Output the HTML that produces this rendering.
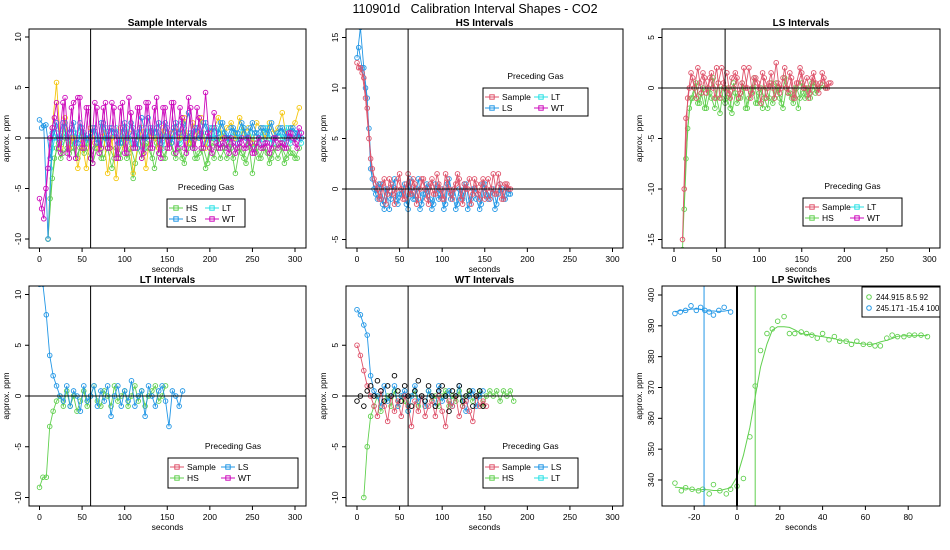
<!DOCTYPE html>
<html><head><meta charset="utf-8">
<style>
body{margin:0;background:#fff;}
svg{display:block;font-family:"Liberation Sans",Arial,sans-serif;}
text{fill:#000;white-space:pre;}
</style></head>
<body>
<svg id="c" width="950" height="550" viewBox="0 0 950 550" xmlns="http://www.w3.org/2000/svg">
<text x="475" y="13" font-size="12.5" text-anchor="middle" xml:space="preserve">110901d   Calibration Interval Shapes - CO2</text>
</svg>
<script>
// ---------- data ----------
const sampleHS = [-10,-4,-1,-2,0,-1.5,-1,-2,0.5,-1,-2,-1,-0.5,-2,-1,-3,-1,-2,0,-1.5,-4,-1,-2,-0.5,-1,-3,-1,-2,-1,-0.5,-2,-1,-2.5,-1,-0.5,-2,-1,-3,-1,-2,0,-1,-2,-1,-3.5,-1,-2,0,-3.5,-1,-2,-1,-2.5,-1,-2,-1,-2,-1.5,-2,-1];
const sampleHS2 = [-6,-2,-0.5,-1.5,-1,0,-2,-1,-1.5,0,-2.5,-1,-2,0,-1,-2,-1.5,-0.5,-2,-1,-2.5,0,-1.5,-1,-2,-0.5,-1,-2,0,-1.5,-1,-2,-1,0,-2,-1.5,-1,-2.5,-0.5,-1,-2,-1,-0.5,-2,-1,-1.5,-2.5,-1,-0.5,-2,-1,-1.5,-2,-1,-0.5,-2.5,-1,-1.5,-2];
const sampleLS = [1.8,1.2,-10,0.5,1.5,0,1.5,0.5,1.5,-0.5,1,0,0.5,1,-0.5,1.5,0,1,0.5,-0.5,1.5,0,1,-1,2,0,1,0.5,1.5,0,1,-0.5,1.5,0.5,1,2.5,0,1,0.5,1.5,0,1,0.5,1.5,0,1,0.5,-0.5,1,0,1.5,0.5,1,-0.5,1,0,0.5,1,0,1,0.5,0];
const sampleLS2 = [1,1.3,-2,1,0,1.5,0,1,-0.5,1.5,0.5,0,1,-0.5,1.5,0,1,0.5,-0.5,1,0,1.5,-0.5,1,0,2,0.5,1,-0.5,1.5,0,1,0.5,1.5,0,0.5,1,0,1.5,0.5,1,0,1.5,0.5,0,1,0.5,1.5,0,1,0.5,0,1,0.5,1.5,0,1,0.5,0,1,0.5,0];
const sampleLT = [-10,-1,0.5,-0.5,1,-0.5,0.5,0,1,-0.5,0,1,-0.5,0.5,-1,0,1,-0.5,0.5,0,-1,0.5,0,1,-0.5,0,0.5,-1,0.5,0,1,-0.5,0,0.5,-1,0,0.5,-0.5,1,0,-0.5,0.5,0,-1,0.5,0,1,-0.5,0,0.5,-0.5,1,0,-0.5,0.5,0,1,-0.5,0,0.5];
const sampleLT2 = [-3,0,-0.5,0.5,0,-1,0.5,1,0,-0.5,0.5,0,-1,1,0,0.5,-0.5,0,1,-0.5,0.5,0,-1,0.5,1,0,-0.5,0.5,0,1,-1,0.5,0,-0.5,1,0,0.5,-0.5,0,1,0.5,-1,0,0.5,-0.5,1,0,0.5,-1,0,0.5,1,-0.5,0,0.5,-0.5,1,0,0.5,-0.5];
const sampleWT = [-6,-8,-3,1,3.5,-1.5,4,-2,3.5,4,-1,3,-2,3.5,-1.5,3,-1,3.5,-2,3,-1.5,4,-1,3,-2,3.5,-1,3,-1.5,3,-1,3.5,-1.5,3,-1,4,-1,3,-1,4.5,-1,2.5,-1,-0.5,-1,0,-1.5,-0.5,-1,0,-1.5,-0.5,-1,-0.5,-1.5,0,-1,-0.5,-1,0.5,-0.5,1];
const sampleWT2 = [-7,-5,0,2,-1,3.5,-1.5,3,-2,4,-1,3,-2.5,3,-1,3.5,-1,3,-2,3.5,-1.5,2.5,-1,3,-1.5,3.5,-1,4,-2,3,-1,3.5,-1,2,-1.5,3,-1,2,-1,0.5,-1.5,-0.5,-1,0,-1.5,-0.5,-1,0,-1,-0.5,-1.5,0,-1,-0.5,-1,0,-0.5,-1,0.5,0,-1,0.5];
const sampleOther = [-10,1,5.5,-1,2,-1,0,-3,-0.5,-3,1,-0.5,-1,0.5,-3.5,0,-4,1,-1,0.5,-3.5,-1,1,-3,0.5,0,-1,1,-1,0.5,1,0,2,-0.5,1.5,0,2,-1,0.5,1,2,0,1,1.5,0,2,0.5,1,-0.5,1.5,1,0,1.5,0.5,1,2.5,0,1,1.5,3];
const hsSample = [12.5,12,11,8,3,1,0,-1,1,-0.5,0.5,-1.5,1,0,-1,1.5,-0.5,0.5,-1,1,0,-1.5,1,-0.5,0.5,-1,1.5,0,-1,0.5,1,-1.5,0,1,-0.5,0.5,-1,1,0,-1,1.5,-0.5,0.5,-1,0.5,0];
const hsSample2 = [12,11.5,9,5,2,0.5,-1,0.5,-1.5,1,-0.5,0,1.5,-1,0.5,-0.5,1,-1.5,0,1,-1,0.5,-0.5,1.5,0,-1,1,-0.5,0,1.5,-1,0.5,0,-1.5,1,-0.5,0.5,-1,1,0,-0.5,1.5,-1,0.5,0];
const hsLS = [13,16,12,9,2,0,-1,0.5,-2,0,-1,1,-1.5,-0.5,0.5,-2,0,-1,1,-1.5,-0.5,0,-2,0.5,-1,0,-1.5,1,-0.5,-2,0,-1,0.5,-1.5,0,-1,-2,0.5,-0.5,-1,0,-1.5,0.5,-1,0,-0.5];
const hsLS2 = [14,12,10,6,1,-0.5,0.5,-1.5,0,-2,0.5,-1,-0.5,0,-1.5,1,-1,0,-2,-0.5,0.5,-1,-1.5,0,-0.5,-2,0.5,-1,0,-1.5,-0.5,0.5,-2,-1,0,-0.5,-1.5,0.5,-1,0,-2,-0.5,0,-1,-0.5];
const lsSample = [-15,-3,0,1,-1,0.5,1.5,-0.5,1,0,2,-1,0.5,1.5,-1,0,1,-0.5,2,0,-1,1,0.5,-1.5,1,0,1.5,-1,0.5,0,2,-0.5,1,-1,0.5,1.5,0,-1,1,0.5,-0.5,1.5,0,0.5];
const lsSample2 = [-10,-1,1.5,0,2,-0.5,1,0,1.5,-1,0.5,2,0,-0.5,1,1.5,-1,0.5,0,2,-0.5,1,0,1.5,-1,0.5,0,2.5,-0.5,1,0,1.5,-1,0.5,2,0,1,-0.5,1.5,0,0.5,1,0,0.5];
const lsHS = [-16,-7,-2,-1,0.5,-1.5,0,-2,-0.5,1,-1,-2.5,0,-1,-2,0.5,-1.5,-1,0,-2,-0.5,1,-1.5,0,-1,-2,0.5,-1,0,-1.5,1,-0.5,-1,0,-2,0.5,-1,0,0.5,-0.5,0,0.3,0];
const lsHS2 = [-12,-4,-1,0,-1.5,-0.5,-2,0,-1,-2,0.5,-1,-1.5,0,-2.5,-0.5,-1,0.5,-2,-1,0,-1.5,-0.5,-2,0,-1,-1.5,0.5,-1,-2,0,-0.5,-1.5,0,-1,-0.5,0,-1,0.5,0];
const ltLS = [11,11,8,4,2,1,0,-0.5,1,-1,0.5,0,-1.5,1,-0.5,0,1,-1,0.5,-0.5,1,-2,0,1,-1,0.5,-0.5,1.5,-1,0,0.5,-2,1,0,-1,0.5,1,-0.5,-3,0.5,0,-1,0.5];
const ltHS = [-9,-8,-8,-3,-1.5,-0.5,0,-1,0.5,-1,0,-1.5,-0.5,0.5,-1,0,1,-0.5,-1,0.5,0,-1,1,-0.5,0,0.5,-1,0,1,-0.5,0.5,-1,0,0.5,1,-0.5,0,1];
const wtSample = [5,4,2.5,1,0,-1,-2,0.5,-1,-2.5,0,-1.5,-0.5,-2,0,-1,-3,-0.5,-1.5,0,-2,-1,-0.5,-2,0,-1.5,-3,-0.5,-1,0,-2,-1,-0.5,-1.5,-2.5,0,-1,-0.5,-1];
const wtLS = [8.5,8,7,6,2,0.5,0,-1,1,-0.5,0,1,-1,0,0.5,-1.5,0,1,-0.5,0,-1,0.5,0,-1,1,-0.5,0,0.5,-1,0,1,-0.5,-1.5,0,0.5,-1,0,0.5];
const wtHS = [-10,-5,-2,-1,0,-1.5,-0.5,0,-1,0.5,-1,0,-0.5,-1.5,0,0.5,-1,0,-1,0.5,-0.5,0,-1,0,0.5,-1,0,-0.5,0.5,-1,0,0.5,-0.5,0,0.5,-1,0,0.5,0,0.5,-0.5,0.5,0,0.5,-0.5];
const wtLT = [-0.5,0,-1,0.5,1,0,1.5,0.5,-0.5,1,0,2,0.5,-0.5,1,0,-1,0.5,1.5,0,-0.5,1,0,-1,0.5,1,0,-1.5,0.5,0,1,-0.5,0,0.5,-1,0,0.5,-1];
const lpGreenX = [-29,-26,-24,-21,-18,-16,-13,-11,-8,-5,-3,0,3,6,8.5,11,14,16.5,19,22,24.5,27,30,32.5,35,37.5,40,43,45.5,48,51,53.5,56,59,62,64.5,67,70,72.5,75,78,80.5,83,86,89];
const lpGreenY = [339,336.5,337.5,337,336.5,337,335.5,338.5,336.5,335.5,337,338,340.5,354,370.5,382,387.5,389,391.5,393,387.5,387.5,388,387.5,387,386,387.5,385.5,386.5,385,385,384,385,384,384,383.5,383.5,386,387,386.5,386.5,387,387,387,386.5];
const lpBlueX = [-29,-26.5,-24,-21.5,-19,-17,-15,-13,-11,-8.5,-6,-3];
const lpBlueY = [394,394.5,395,396.5,395,396,395,394.5,393.5,395,396,394.5];
const xTicks = [0,50,100,150,200,250,300];

const C = {red:'#DF536B',green:'#61D04F',blue:'#2297E6',cyan:'#28E2E5',mag:'#CD0BBC',yel:'#F5C710',blk:'#000'};
const svg = document.getElementById('c');
const NS = 'http://www.w3.org/2000/svg';
function mk(tag, attrs, parent){ const e=document.createElementNS(NS,tag); for(const k in attrs) e.setAttribute(k,attrs[k]); (parent||svg).appendChild(e); return e; }

function panel(p){
  const g = mk('g',{});
  
  
  const X = v => p.x0 + v*p.xs, Y = v => p.y0 - v*p.ys;
  const clipId = 'clip'+p.name;
  const cp = mk('clipPath',{id:clipId},g);
  mk('rect',{x:p.L,y:p.T,width:p.R-p.L,height:p.B-p.T},cp);
  const plot = mk('g',{'clip-path':'url(#'+clipId+')'},g);
  p.series.forEach(s=>{
    const pts = s.y.map((v,i)=>[X(s.x? s.x[i] : s.start + i*s.step), Y(v)]);
    const sg = mk('g',{},plot);
    
    
    if(s.line!==false) mk('polyline',{points:pts.map(q=>q.join(',')).join(' '),fill:'none',stroke:s.c,'stroke-width':0.9},sg);
    pts.forEach(q=>mk('circle',{cx:q[0],cy:q[1],r:2.3,fill:'none',stroke:s.c,'stroke-width':0.9},sg));
  });
  (p.extra||[]).forEach(f=>f(plot,X,Y));
  if(p.hline!==undefined) mk('line',{x1:p.L,x2:p.R,y1:Y(p.hline),y2:Y(p.hline),stroke:'#000','stroke-width':1},plot);
  (p.vlines||[]).forEach(v=>mk('line',{x1:X(v.x),x2:X(v.x),y1:p.T,y2:p.B,stroke:v.c||'#000','stroke-width':v.w||1},plot));
  mk('rect',{x:p.L,y:p.T,width:p.R-p.L,height:p.B-p.T,fill:'none',stroke:'#000','stroke-width':1},g);
  p.xt.forEach(t=>{ const x=X(t); mk('line',{x1:x,x2:x,y1:p.B,y2:p.B+4,stroke:'#000'},g);
    const tx=mk('text',{x:x,y:p.B+14,'font-size':8.5,'text-anchor':'middle'},g); tx.textContent=t; });
  mk('line',{x1:X(p.xt[0]),x2:X(p.xt[p.xt.length-1]),y1:p.B,y2:p.B,stroke:'#000'},g);
  p.yt.forEach(t=>{ const y=Y(t); mk('line',{x1:p.L-4,x2:p.L,y1:y,y2:y,stroke:'#000'},g);
    const tx=mk('text',{x:p.L-8,y:y,'font-size':8.5,'text-anchor':'middle',transform:`rotate(-90 ${p.L-8} ${y})`},g); tx.textContent=t; });
  mk('line',{x1:p.L,x2:p.L,y1:Y(p.yt[0]),y2:Y(p.yt[p.yt.length-1]),stroke:'#000'},g);
  const t=mk('text',{x:(p.L+p.R)/2,y:p.T-3,'font-size':10,'font-weight':'bold','text-anchor':'middle'},g); t.textContent=p.title;
  const xl=mk('text',{x:(p.L+p.R)/2,y:p.B+24,'font-size':8.5,'text-anchor':'middle'},g); xl.textContent='seconds';
  const ya=p.L-20, yc=(p.T+p.B)/2;
  const yl=mk('text',{x:ya,y:yc,'font-size':8.5,'text-anchor':'middle',transform:`rotate(-90 ${ya} ${yc})`},g); yl.textContent='approx. ppm';
  if(p.legend) legend(g,p.legend);
}

function legend(g,L){
  const lg=mk('g',{},g);
  
  
  if(L.title){ const t=mk('text',{x:L.x+L.w/2,y:L.y-9,'font-size':8.5,'text-anchor':'middle'},lg); t.textContent=L.title; }
  mk('rect',{x:L.x,y:L.y,width:L.w,height:L.h,fill:'#fff',stroke:'#000','stroke-width':1},lg);
  L.items.forEach(it=>{
    const e=mk('g',{},lg);
    
    
    if(L.line!==false) mk('line',{x1:it.x-7,x2:it.x+7,y1:it.y,y2:it.y,stroke:it.c},e);
    mk(L.line===false?'circle':'rect', L.line===false?{cx:it.x,cy:it.y,r:2.3,fill:'none',stroke:it.c}:{x:it.x-2.2,y:it.y-2.2,width:4.4,height:4.4,fill:'none',stroke:it.c},e);
    const t=mk('text',{x:it.x+(L.line===false?7:10),y:it.y+3,'font-size':L.fs||8.5},e); t.textContent=it.t;
  });
}

panel({name:'sample-intervals-panel',title:'Sample Intervals',L:29,R:306,T:29,B:248,x0:39.5,xs:0.8517,y0:138,ys:10.1,xt:xTicks,yt:[-10,-5,0,5,10],hline:0,vlines:[{x:60}],
  series:[{name:'series-lt',c:C.cyan,y:sampleLT,start:10,step:5},{name:'series-lt-2',c:C.cyan,y:sampleLT2,start:12.5,step:5},
    {name:'series-hs',c:C.green,y:sampleHS,start:10,step:5},{name:'series-hs-2',c:C.green,y:sampleHS2,start:12.5,step:5},
    {name:'series-other',c:C.yel,y:sampleOther,start:10,step:5},
    {name:'series-ls',c:C.blue,y:sampleLS,start:0,step:5},{name:'series-ls-2',c:C.blue,y:sampleLS2,start:2.5,step:5},
    {name:'series-wt',c:C.mag,y:sampleWT,start:0,step:5},{name:'series-wt-2',c:C.mag,y:sampleWT2,start:2.5,step:5}],
  legend:{title:'Preceding Gas',x:167,y:199,w:78,h:28,items:[{x:176,y:208,c:C.green,t:'HS'},{x:176,y:219,c:C.blue,t:'LS'},{x:212,y:208,c:C.cyan,t:'LT'},{x:212,y:219,c:C.mag,t:'WT'}]}});

panel({name:'hs-intervals-panel',title:'HS Intervals',L:346,R:623,T:29,B:248,x0:357,xs:0.8517,y0:189,ys:10.1,xt:xTicks,yt:[-5,0,5,10,15],hline:0,vlines:[{x:60}],
  series:[{name:'series-ls',c:C.blue,y:hsLS,start:0,step:4},{name:'series-ls-2',c:C.blue,y:hsLS2,start:2,step:4},
    {name:'series-sample',c:C.red,y:hsSample,start:0,step:4},{name:'series-sample-2',c:C.red,y:hsSample2,start:2,step:4}],
  legend:{title:'Preceding Gas',x:483,y:88,w:105,h:28,items:[{x:492,y:97,c:C.red,t:'Sample'},{x:492,y:108,c:C.blue,t:'LS'},{x:541,y:97,c:C.cyan,t:'LT'},{x:541,y:108,c:C.mag,t:'WT'}]}});

panel({name:'ls-intervals-panel',title:'LS Intervals',L:662,R:940,T:29,B:248,x0:674,xs:0.8517,y0:88,ys:10.1,xt:xTicks,yt:[-15,-10,-5,0,5],hline:0,vlines:[{x:60}],
  series:[{name:'series-hs',c:C.green,y:lsHS,start:10,step:4},{name:'series-hs-2',c:C.green,y:lsHS2,start:12,step:4},
    {name:'series-sample',c:C.red,y:lsSample,start:10,step:4},{name:'series-sample-2',c:C.red,y:lsSample2,start:12,step:4}],
  legend:{title:'Preceding Gas',x:803,y:198,w:99,h:28,items:[{x:812,y:207,c:C.red,t:'Sample'},{x:812,y:218,c:C.green,t:'HS'},{x:857,y:207,c:C.cyan,t:'LT'},{x:857,y:218,c:C.mag,t:'WT'}]}});

panel({name:'lt-intervals-panel',title:'LT Intervals',L:29,R:306,T:286,B:506,x0:39.5,xs:0.8517,y0:396,ys:10.15,xt:xTicks,yt:[-10,-5,0,5,10],hline:0,vlines:[{x:60}],
  series:[{name:'series-hs',c:C.green,y:ltHS,start:0,step:4},{name:'series-ls',c:C.blue,y:ltLS,start:0,step:4}],
  legend:{title:'Preceding Gas',x:168,y:458,w:130,h:30,items:[{x:177,y:467,c:C.red,t:'Sample'},{x:177,y:478,c:C.green,t:'HS'},{x:228,y:467,c:C.blue,t:'LS'},{x:228,y:478,c:C.mag,t:'WT'}]}});

panel({name:'wt-intervals-panel',title:'WT Intervals',L:346,R:623,T:286,B:506,x0:357,xs:0.8517,y0:396,ys:10.15,xt:xTicks,yt:[-10,-5,0,5],hline:0,vlines:[{x:60}],
  series:[{name:'series-hs',c:C.green,y:wtHS,start:8,step:4},{name:'series-ls',c:C.blue,y:wtLS,start:0,step:4},{name:'series-sample',c:C.red,y:wtSample,start:0,step:4},{name:'series-lt',c:C.blk,y:wtLT,start:0,step:4,line:false}],
  legend:{title:'Preceding Gas',x:483,y:458,w:95,h:30,items:[{x:492,y:467,c:C.red,t:'Sample'},{x:492,y:478,c:C.green,t:'HS'},{x:541,y:467,c:C.blue,t:'LS'},{x:541,y:478,c:C.cyan,t:'LT'}]}});

function smooth(arr){ return arr.map((v,i)=>{ let s=0,n=0; for(let k=-2;k<=2;k++){ if(arr[i+k]!==undefined){s+=arr[i+k];n++;} } return s/n; }); }
panel({name:'lp-switches-panel',title:'LP Switches',L:662,R:940,T:286,B:506,x0:737,xs:2.14,y0:295+400*3.083,ys:3.083,xt:[-20,0,20,40,60,80],yt:[340,350,360,370,380,390,400],
  vlines:[{x:-15.4,c:C.blue},{x:8.5,c:C.green},{x:0,c:'#000',w:2}],
  series:[{name:'series-244915',c:C.green,y:lpGreenY,x:lpGreenX,line:false},{name:'series-245171',c:C.blue,y:lpBlueY,x:lpBlueX,line:false}],
  extra:[(pl,X,Y)=>{
    const sg=smooth(lpGreenY), sb=smooth(lpBlueY);
    mk('polyline',{points:lpGreenX.map((x,i)=>X(x)+','+Y(sg[i])).join(' '),fill:'none',stroke:C.green,'stroke-width':1},pl);
    mk('polyline',{points:lpBlueX.map((x,i)=>X(x)+','+Y(sb[i])).join(' '),fill:'none',stroke:C.blue,'stroke-width':1},pl);
  }],
  legend:{x:862,y:287,w:78,h:30,line:false,fs:7.8,items:[{x:869,y:297,c:C.green,t:'244.915 8.5 92'},{x:869,y:308,c:C.blue,t:'245.171 -15.4 100'}]}});
</script>
</body></html>
